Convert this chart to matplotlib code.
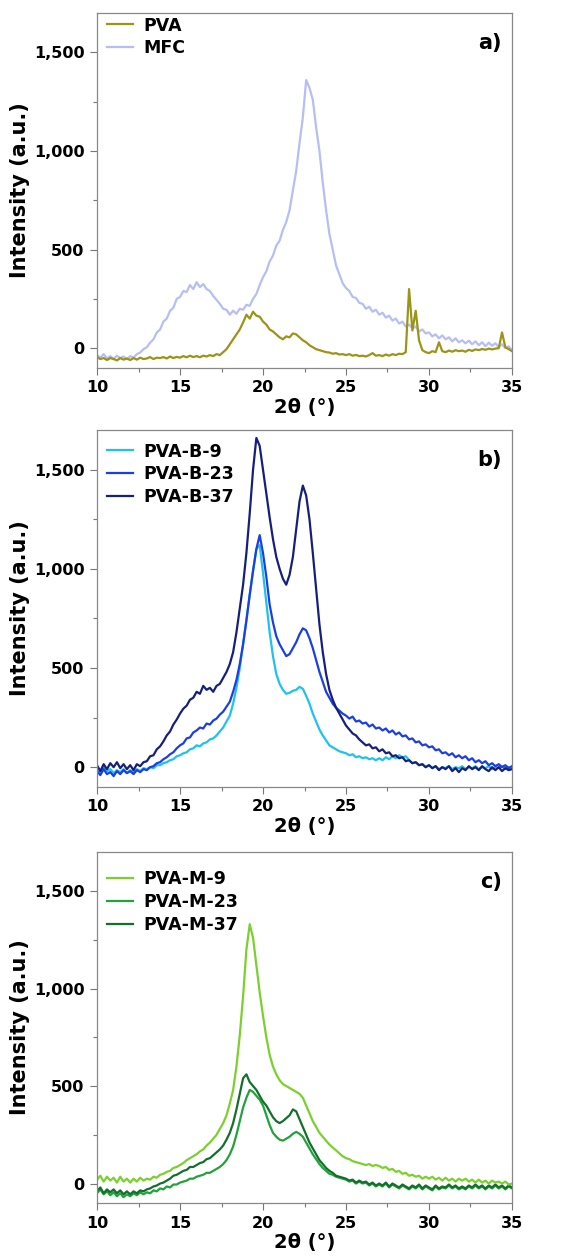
import numpy as np
import matplotlib
matplotlib.use("Agg")
import matplotlib.pyplot as plt
from matplotlib.ticker import MultipleLocator, FuncFormatter

plt.rcParams['font.family'] = ['DejaVu Sans']
plt.rcParams['font.weight'] = 'bold'

# 2theta grid (degrees), 0.2 deg step from 10 to 35
two_theta = np.round(np.arange(10.0, 35.0001, 0.2), 1)

# ---- panel a ----
pva = [-45, -55, -50, -60, -50, -55, -62, -50, -58, -52, -60, -50, -58, -48, -55,
       -52, -45, -55, -48, -50, -45, -52, -42, -50, -44, -48, -40, -46, -38, -45,
       -40, -46, -38, -42, -35, -40, -30, -35, -20, -5, 20, 45, 70, 95, 130,
       170, 150, 185, 165, 160, 135, 120, 95, 85, 70, 55, 45, 60, 55, 75,
       70, 55, 40, 30, 15, 5, -5, -10, -15, -20, -22, -28, -25, -32, -30,
       -35, -30, -38, -34, -40, -38, -42, -35, -25, -38, -35, -40, -32, -38, -30,
       -35, -28, -30, -20, 300, 90, 190, 40, -10, -20, -25, -15, -20, 30, -15,
       -20, -12, -18, -10, -15, -12, -18, -8, -14, -6, -10, -4, -8, -2, -6,
       -2, 0, 80, 5, -5, -15]
mfc = [-35, -48, -30, -52, -40, -55, -38, -50, -42, -56, -40, -48, -30, -22, -5,
       5, 28, 45, 80, 95, 135, 150, 190, 205, 250, 260, 290, 285, 320, 300,
       335, 310, 325, 300, 290, 265, 245, 225, 200, 195, 170, 190, 175, 200, 195,
       220, 215, 250, 275, 320, 360, 390, 440, 470, 520, 545, 600, 640, 700, 800,
       900, 1040, 1170, 1360, 1320, 1260, 1120, 1000, 840, 700, 580, 500, 420, 375, 330,
       305, 290, 260, 255, 230, 225, 200, 210, 185, 195, 170, 180, 155, 165, 140,
       150, 125, 135, 110, 120, 100, 110, 85, 95, 75, 80, 60, 70, 50, 65,
       45, 55, 35, 50, 30, 40, 25, 38, 20, 35, 15, 30, 10, 28, 12,
       25, 5, 20, 0, 10, -10]

# ---- panel b ----
b9 = [0, -25, 5, -20, -10, -30, -15, -25, -10, -30, -15, -25, -10, -20, -5,
      -10, 0, -5, 10, 10, 20, 25, 35, 40, 55, 60, 70, 75, 90, 95,
      110, 105, 120, 125, 140, 145, 160, 180, 200, 230, 260, 320, 400, 500, 620,
      740, 870, 990, 1100, 1120, 980, 830, 680, 560, 470, 420, 390, 370, 375, 385,
      390, 405, 395, 360, 320, 270, 230, 190, 160, 135, 110, 100, 90, 80, 75,
      70, 60, 65, 50, 55, 45, 50, 40, 45, 35, 45, 35, 50, 40, 55,
      45, 60, 50, 55, 35, 20, 25, 10, 15, 0, 10, -5, 5, -10, 0,
      -5, 5, -10, 0, -5, 5, -10, 0, -5, 5, -10, 0, -5, 5, -10,
      0, -5, 5, -10, 0, -5]
b23 = [-20, -40, -10, -35, -25, -45, -20, -35, -15, -30, -20, -35, -15, -25, -10,
       -15, 0, 5, 20, 25, 40, 50, 65, 75, 95, 110, 120, 145, 150, 175,
       185, 200, 195, 220, 215, 235, 245, 265, 280, 305, 330, 380, 440, 520, 620,
       740, 870, 990, 1100, 1170, 1080, 960, 820, 730, 660, 620, 590, 560, 570, 600,
       630, 670, 700, 690, 650, 600, 540, 480, 430, 380, 350, 320, 300, 285, 270,
       260, 245, 255, 230, 235, 220, 225, 205, 215, 195, 200, 185, 195, 175, 185,
       165, 175, 155, 160, 140, 145, 125, 130, 110, 115, 100, 105, 85, 90, 70,
       75, 60, 70, 50, 60, 45, 55, 35, 45, 25, 35, 20, 30, 10, 20,
       5, 15, 0, 10, -5, 5]
b37 = [10, -20, 15, -10, 20, 0, 25, -5, 15, -10, 10, -15, 15, 5, 25,
       30, 55, 60, 90, 105, 130, 160, 180, 215, 240, 270, 295, 310, 340, 350,
       380, 370, 410, 390, 400, 380, 410, 420, 450, 480, 520, 580, 680, 800, 920,
       1080, 1280, 1500, 1660, 1620, 1500, 1380, 1260, 1150, 1060, 1000, 950, 920, 970, 1060,
       1200, 1340, 1420, 1370, 1250, 1080, 900, 720, 580, 470, 390, 340, 300, 270, 240,
       210, 190, 170, 160, 140, 125, 110, 115, 95, 100, 80, 90, 70, 75, 55,
       60, 45, 50, 30, 35, 20, 25, 10, 15, 0, 10, -5, 5, -15, 0,
       -10, 5, -20, -5, -25, -5, -15, 5, -10, 0, -15, 5, -10, -20, 0,
       -15, 0, -20, -5, -15, -10]

# ---- panel c ----
m9 = [20, 40, 10, 35, 15, 30, 5, 35, 10, 25, 5, 25, 10, 30, 15,
      25, 20, 35, 30, 45, 50, 60, 65, 80, 85, 95, 105, 120, 130, 140,
      150, 165, 175, 195, 210, 230, 250, 280, 310, 350, 410, 480, 600, 760, 960,
      1200, 1330, 1260, 1120, 980, 860, 750, 660, 600, 560, 530, 510, 500, 490, 480,
      470, 460, 440, 400, 360, 320, 290, 260, 240, 220, 200, 185, 170, 155, 140,
      130, 125, 115, 110, 105, 100, 95, 100, 90, 95, 90, 80, 85, 70, 75,
      60, 65, 50, 55, 40, 45, 35, 40, 25, 35, 25, 35, 20, 30, 15,
      30, 15, 25, 10, 25, 15, 25, 10, 20, 5, 20, 5, 15, 0, 15,
      5, 10, 0, 10, -5, 0]
m23 = [-50, -30, -55, -40, -60, -45, -65, -50, -70, -55, -65, -50, -60, -45, -55,
       -45, -50, -35, -40, -25, -30, -15, -20, -5, -5, 5, 10, 15, 25, 25,
       35, 40, 45, 55, 55, 65, 75, 85, 100, 120, 150, 190, 250, 320, 390,
       440, 480, 470, 450, 430, 400, 350, 300, 260, 240, 225, 220, 230, 240, 255,
       265, 255, 240, 210, 180, 150, 125, 100, 80, 65, 50, 45, 35, 30, 25,
       20, 10, 15, 0, 10, 0, 5, -10, 0, -15, -5, -15, 0, -20, -5,
       -15, -25, -10, -20, -30, -15, -25, -10, -30, -15, -25, -35, -15, -30, -20,
       -25, -10, -25, -15, -30, -20, -30, -15, -25, -10, -25, -15, -30, -15, -25,
       -10, -25, -15, -30, -15, -25]
m37 = [-40, -20, -50, -30, -45, -30, -50, -35, -55, -40, -55, -40, -50, -35, -40,
       -30, -25, -15, -10, 0, 5, 15, 25, 40, 45, 55, 65, 70, 85, 85,
       95, 105, 110, 125, 130, 145, 160, 175, 195, 225, 260, 310, 380, 460, 540,
       560, 520, 500, 480, 450, 420, 400, 370, 340, 320, 310, 320, 335, 350, 380,
       370, 330, 290, 250, 210, 180, 150, 120, 100, 80, 65, 55, 40, 35, 30,
       25, 15, 20, 5, 15, 5, 10, -5, 5, -10, 0, -10, 5, -15, 0,
       -10, -20, -5, -15, -25, -10, -20, -5, -25, -10, -20, -30, -10, -25, -15,
       -20, -5, -20, -10, -25, -15, -25, -10, -20, -5, -20, -10, -25, -10, -20,
       -5, -20, -10, -25, -10, -20]

x_ticks = [10, 15, 20, 25, 30, 35]
y_ticks = [0, 500, 1000, 1500]

panels = [
    ("a)", [("MFC", mfc, "#b6bef4"), ("PVA", pva, "#9c9416")], ["PVA", "MFC"], 0.99),
    ("b)", [("PVA-B-9", b9, "#1ec2ec"), ("PVA-B-23", b23, "#1b3fe4"), ("PVA-B-37", b37, "#16207a")],
     ["PVA-B-9", "PVA-B-23", "PVA-B-37"], 0.965),
    ("c)", [("PVA-M-23", m23, "#22a23a"), ("PVA-M-37", m37, "#13702c"), ("PVA-M-9", m9, "#7cd02e")],
     ["PVA-M-9", "PVA-M-23", "PVA-M-37"], 0.948),
]

fig = plt.figure(figsize=(5.82, 12.6), dpi=100)
bottoms = [0.708, 0.3754, 0.0452]
heights = [0.2817, 0.2833, 0.2786]

for (lab, series, order, legy), b, h in zip(panels, bottoms, heights):
    ax = fig.add_axes([0.1667, b, 0.713, h])
    handles = {}
    for name, vals, col in series:
        ln, = ax.plot(two_theta, vals, color=col, lw=1.6, label=name)
        handles[name] = ln
    ax.set_xlim(10, 35)
    ax.set_ylim(-100, 1700)
    ax.set_xticks(x_ticks)
    ax.set_yticks(y_ticks)
    ax.xaxis.set_minor_locator(MultipleLocator(2.5))
    ax.yaxis.set_minor_locator(MultipleLocator(250))
    ax.yaxis.set_major_formatter(FuncFormatter(lambda v, p: f"{v:,.0f}"))
    ax.tick_params(which='major', length=5, width=0.8, color='#777777', labelsize=11.5, pad=4)
    ax.tick_params(which='minor', length=3, width=0.8, color='#777777')
    for lbl in ax.get_xticklabels() + ax.get_yticklabels():
        lbl.set_fontweight('bold')
    for sp in ax.spines.values():
        sp.set_color('#888888')
        sp.set_linewidth(0.9)
    ax.set_xlabel("2θ (°)", fontsize=14, fontweight='bold', labelpad=2)
    ax.set_ylabel("Intensity (a.u.)", fontsize=15, fontweight='bold', labelpad=3)
    ax.text(0.975, 0.915, lab, transform=ax.transAxes, ha='right', va='center',
            fontsize=15, fontweight='bold')
    ax.legend([handles[n] for n in order], order, loc='upper left', frameon=False,
              bbox_to_anchor=(0.024, legy), borderaxespad=0, borderpad=0,
              handlelength=1.5, handletextpad=0.6, labelspacing=0.28,
              prop={'weight': 'bold', 'size': 12.5})

fig.savefig("out.png", dpi=100)
